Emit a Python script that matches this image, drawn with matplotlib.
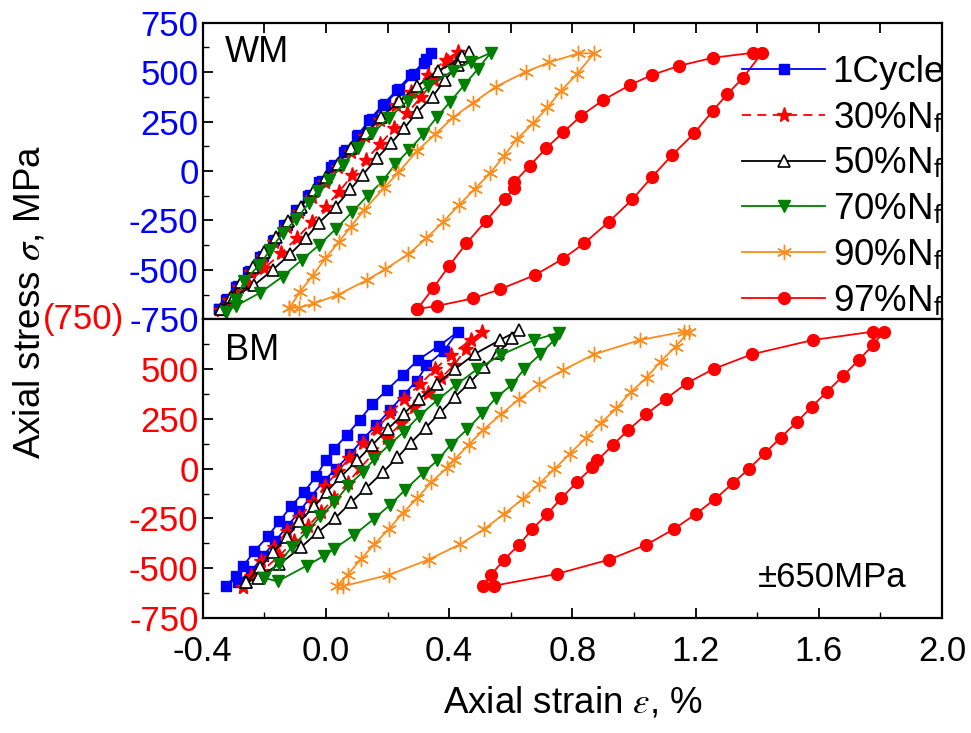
import matplotlib

matplotlib.use("Agg")  # headless
import matplotlib.pyplot as plt
from matplotlib.ticker import MultipleLocator, FuncFormatter

plt.rcParams["font.family"] = ["Liberation Sans", "DejaVu Sans"]
plt.rcParams["mathtext.fontset"] = "stix"
plt.rcParams["axes.unicode_minus"] = False

# --- data: each loop = loading branch (min -> max) followed by unloading branch (max -> min)
labels = ["1Cycle", "30%N$_\\mathregular{f}$", "50%N$_\\mathregular{f}$",
          "70%N$_\\mathregular{f}$", "90%N$_\\mathregular{f}$", "97%N$_\\mathregular{f}$"]

# WM (weld metal), strain in %, stress in MPa
wm_c1_x = [-0.346, -0.324, -0.292, -0.254, -0.213, -0.173, -0.135, -0.097, -0.059, -0.022, 0.016, 0.059, 0.101,
           0.141, 0.184, 0.230, 0.276, 0.317, 0.341,
           0.324, 0.286, 0.238, 0.191, 0.148, 0.105, 0.065, 0.025, -0.014, -0.052, -0.089, -0.128, -0.168,
           -0.205, -0.245, -0.284, -0.321, -0.346]
wm_c1_y = [-698, -652, -585, -509, -433, -352, -273, -197, -126, -54, 22, 98, 177, 258, 334, 409, 485, 548, 595,
           565, 490, 415, 337, 261, 182, 106, 30, -49, -121, -197, -273, -349, -430, -504, -581, -649, -698]

wm_30_x = [-0.341, -0.314, -0.281, -0.243, -0.205, -0.168, -0.128, -0.086, -0.045, -0.003, 0.038, 0.081, 0.126,
           0.175, 0.227, 0.276, 0.330, 0.389, 0.427,
           0.395, 0.351, 0.308, 0.263, 0.222, 0.175, 0.130, 0.086, 0.043, 0.000, -0.045, -0.094, -0.146,
           -0.200, -0.254, -0.297, -0.341]
wm_30_y = [-703, -652, -585, -509, -433, -357, -281, -206, -130, -54, 22, 98, 177, 258, 334, 401, 485, 561, 603,
           553, 460, 372, 292, 216, 135, 56, -20, -104, -180, -256, -340, -416, -492, -568, -635, -703]

wm_50_x = [-0.341, -0.308, -0.276, -0.238, -0.200, -0.162, -0.122, -0.081, -0.038, 0.000, 0.038, 0.081, 0.130,
           0.178, 0.238, 0.297, 0.364, 0.432, 0.465,
           0.440, 0.427, 0.386, 0.346, 0.297, 0.254, 0.211, 0.165, 0.119, 0.079, 0.032, -0.022, -0.065,
           -0.117, -0.173, -0.232, -0.297, -0.341]
wm_50_y = [-699, -635, -559, -484, -408, -332, -251, -180, -96, -29, 35, 115, 194, 271, 354, 430, 506, 564, 603,
           583, 536, 460, 376, 300, 216, 140, 64, -20, -93, -180, -261, -340, -421, -500, -576, -635, -699]

wm_70_x = [-0.324, -0.292, -0.265, -0.216, -0.181, -0.141, -0.097, -0.054, -0.027, 0.011, 0.054, 0.103, 0.151,
           0.205, 0.265, 0.330, 0.411, 0.470, 0.535,
           0.492, 0.449, 0.403, 0.359, 0.316, 0.270, 0.225, 0.182, 0.135, 0.086, 0.032, -0.022, -0.079,
           -0.141, -0.213, -0.292, -0.324]
wm_70_y = [-711, -652, -554, -475, -399, -315, -244, -160, -99, -45, 30, 115, 190, 270, 354, 430, 506, 553, 598,
           514, 435, 350, 271, 185, 106, 34, -54, -125, -206, -293, -374, -450, -534, -615, -682, -711]

wm_90_x = [-0.119, -0.084, -0.043, -0.002, 0.041, 0.081, 0.124, 0.187, 0.235, 0.297, 0.355, 0.413, 0.478, 0.551,
           0.649, 0.724, 0.819, 0.870,
           0.814, 0.762, 0.719, 0.672, 0.619, 0.578, 0.532, 0.483, 0.432, 0.381, 0.326, 0.267, 0.192, 0.133,
           0.038, -0.038, -0.086, -0.119]
wm_90_y = [-694, -610, -529, -441, -361, -281, -197, -88, -7, 103, 187, 271, 345, 426, 502, 549, 595, 595,
           489, 404, 322, 241, 160, 76, -12, -91, -172, -256, -340, -421, -497, -551, -627, -669, -691, -694]

wm_97_x = [0.297, 0.349, 0.400, 0.456, 0.519, 0.581, 0.611, 0.611, 0.662, 0.714, 0.770, 0.827, 0.900, 0.987,
           1.057, 1.146, 1.257, 1.387, 1.416,
           1.354, 1.303, 1.256, 1.195, 1.124, 1.059, 0.995, 0.919, 0.838, 0.768, 0.679, 0.565, 0.478, 0.362,
           0.297]
wm_97_y = [-698, -590, -479, -366, -253, -142, -88, -57, 27, 115, 195, 278, 359, 435, 485, 532, 573, 598, 598,
           472, 389, 305, 190, 81, -29, -143, -256, -366, -445, -526, -598, -644, -682, -698]

# BM (base metal)
bm_c1_x = [-0.324, -0.292, -0.270, -0.232, -0.189, -0.151, -0.114, -0.070, -0.032, 0.000, 0.027, 0.068, 0.110,
           0.151, 0.198, 0.249, 0.299, 0.368, 0.427,
           0.382, 0.326, 0.295, 0.252, 0.209, 0.164, 0.121, 0.079, 0.032, -0.008, -0.049, -0.086, -0.126,
           -0.165, -0.205, -0.243, -0.286]
bm_c1_y = [-588, -537, -491, -415, -340, -265, -190, -115, -39, 44, 99, 170, 245, 324, 395, 471, 546, 618, 685,
           591, 518, 441, 371, 295, 220, 150, 73, -1, -64, -140, -215, -290, -365, -441, -516, -568]

bm_30_x = [-0.270, -0.243, -0.211, -0.170, -0.126, -0.086, -0.043, -0.003, 0.040, 0.076, 0.119, 0.165, 0.209,
           0.254, 0.306, 0.354, 0.405, 0.470, 0.506,
           0.454, 0.416, 0.373, 0.330, 0.286, 0.245, 0.198, 0.155, 0.111, 0.070, 0.027, -0.016, -0.059,
           -0.105, -0.154, -0.209, -0.270]
bm_30_y = [-596, -541, -466, -394, -315, -243, -170, -89, -11, 53, 128, 200, 278, 350, 424, 499, 571, 646, 688,
           599, 521, 454, 379, 312, 228, 156, 78, 3, -73, -148, -220, -290, -365, -441, -516, -596]

bm_50_x = [-0.259, -0.213, -0.173, -0.126, -0.086, -0.038, 0.003, 0.049, 0.101, 0.151, 0.200, 0.252, 0.303,
           0.360, 0.418, 0.483, 0.565, 0.627,
           0.605, 0.557, 0.514, 0.468, 0.418, 0.371, 0.324, 0.276, 0.232, 0.184, 0.130, 0.081, 0.030, -0.027,
           -0.081, -0.151, -0.222, -0.259]
bm_50_y = [-571, -494, -420, -345, -265, -190, -115, -39, 41, 120, 198, 275, 349, 426, 499, 576, 646, 696,
           654, 579, 509, 434, 359, 282, 206, 131, 56, -19, -98, -170, -248, -320, -395, -479, -549, -571]

bm_70_x = [-0.200, -0.154, -0.111, -0.065, -0.018, 0.027, 0.070, 0.119, 0.157, 0.205, 0.254, 0.303, 0.362,
           0.422, 0.490, 0.568, 0.676, 0.757,
           0.741, 0.695, 0.643, 0.602, 0.551, 0.508, 0.459, 0.405, 0.362, 0.314, 0.257, 0.209, 0.155, 0.092,
           0.025, -0.005, -0.062, -0.157, -0.200]
bm_70_y = [-549, -477, -394, -320, -240, -170, -89, -18, 48, 120, 186, 265, 345, 420, 499, 571, 646, 683,
           646, 574, 499, 420, 354, 278, 198, 120, 41, -23, -106, -181, -253, -332, -404, -437, -487, -566, -549]

bm_90_x = [0.036, 0.070, 0.114, 0.157, 0.205, 0.249, 0.297, 0.341, 0.392, 0.416, 0.463, 0.511, 0.568, 0.627,
           0.692, 0.771, 0.870, 1.019, 1.162, 1.178,
           1.135, 1.086, 1.041, 0.989, 0.943, 0.892, 0.843, 0.791, 0.741, 0.692, 0.638, 0.578, 0.514, 0.436,
           0.333, 0.205, 0.054]
bm_90_y = [-588, -533, -454, -379, -302, -223, -148, -69, 3, 44, 120, 195, 273, 349, 426, 496, 574, 646, 688, 688,
           613, 538, 457, 384, 303, 228, 153, 74, -3, -76, -153, -228, -303, -379, -457, -533, -591]

bm_97_x = [0.511, 0.535, 0.578, 0.627, 0.670, 0.719, 0.764, 0.814, 0.865, 0.881, 0.932, 0.982, 1.040, 1.103,
           1.171, 1.259, 1.382, 1.581, 1.776, 1.811,
           1.776, 1.730, 1.679, 1.627, 1.578, 1.528, 1.476, 1.425, 1.373, 1.321, 1.263, 1.200, 1.130, 1.040,
           0.919, 0.749, 0.546]
bm_97_y = [-588, -536, -457, -382, -303, -227, -148, -69, 8, 41, 120, 195, 273, 350, 429, 501, 574, 646, 688, 688,
           621, 546, 466, 387, 312, 233, 156, 78, -1, -73, -153, -228, -303, -382, -457, -529, -588]

wm_series = [(wm_c1_x, wm_c1_y), (wm_30_x, wm_30_y), (wm_50_x, wm_50_y),
             (wm_70_x, wm_70_y), (wm_90_x, wm_90_y), (wm_97_x, wm_97_y)]
bm_series = [(bm_c1_x, bm_c1_y), (bm_30_x, bm_30_y), (bm_50_x, bm_50_y),
             (bm_70_x, bm_70_y), (bm_90_x, bm_90_y), (bm_97_x, bm_97_y)]

_BLUE = "#0000ff"
_RED = "#ff0000"
_GREEN = "#007f00"
_ORANGE = "#ff8c1a"

styles = [
    dict(color=_BLUE, marker="s", ms=7.5, ls="-"),
    dict(color=_RED, marker="*", ms=11, ls=(0, (5, 3.5))),
    dict(color="black", marker="^", ms=9, mfc="white", mew=1.2, ls="-"),
    dict(color=_GREEN, marker="v", ms=9, ls="-"),
    dict(color=_ORANGE, marker=(6, 2, 0), ms=11, mew=1.0, ls="-"),
    dict(color=_RED, marker="o", ms=8.5, ls="-"),
]

FS = 25

fig = plt.figure(figsize=(9.71, 7.33), dpi=100)
ax1 = fig.add_axes([0.2088, 0.5644, 0.7614, 0.4046])
ax2 = fig.add_axes([0.2088, 0.1569, 0.7614, 0.4075])

handles = []
for (x, y), lab, st in zip(wm_series, labels, styles):
    h, = ax1.plot(x, y, lw=1.3, label=lab, **st)
    handles.append(h)
for (x, y), st in zip(bm_series, styles):
    ax2.plot(x, y, lw=1.3, **st)

for ax in (ax1, ax2):
    ax.set_xlim(-0.4, 2.0)
    ax.set_ylim(-750, 750)
    for s in ax.spines.values():
        s.set_linewidth(1.6)
    ax.yaxis.set_major_locator(MultipleLocator(250))
    ax.yaxis.set_minor_locator(MultipleLocator(125))
    ax.tick_params(axis="y", which="both", direction="in", left=True, right=False, labelsize=FS, pad=3)
    ax.tick_params(axis="y", which="major", length=7, width=1.3)
    ax.tick_params(axis="y", which="minor", length=4, width=1.0)

# top panel: ticks on the top edge only, blue labels
ax1.xaxis.set_major_locator(MultipleLocator(0.2))
ax1.tick_params(axis="x", which="both", direction="in", top=True, bottom=False,
                labeltop=False, labelbottom=False, length=7, width=1.3)
ax1.tick_params(axis="y", labelcolor=_BLUE)

# bottom panel: ticks on the bottom edge, red labels, top label replaced by "(750)"
ax2.xaxis.set_major_locator(MultipleLocator(0.4))
ax2.xaxis.set_minor_locator(MultipleLocator(0.2))
ax2.xaxis.set_major_formatter(FuncFormatter(lambda v, p: f"{v:.1f}"))
ax2.tick_params(axis="x", which="both", direction="in", top=False, bottom=True, labelsize=FS, pad=12)
ax2.tick_params(axis="x", which="major", length=7, width=1.3)
ax2.tick_params(axis="x", which="minor", length=4, width=1.0)
ax2.yaxis.set_major_formatter(FuncFormatter(lambda v, p: "" if v >= 749 else f"{v:g}"))
ax2.tick_params(axis="y", labelcolor=_RED)
fig.text(124 / 971, 1 - 320 / 733, "(750)", color=_RED, fontsize=FS, ha="right", va="center")

ax1.text(0.030, 0.90, "WM", transform=ax1.transAxes, fontsize=26, ha="left", va="center")
ax2.text(0.030, 0.897, "BM", transform=ax2.transAxes, fontsize=26, ha="left", va="center")
ax2.text(0.751, 0.134, "\u00b1650MPa", transform=ax2.transAxes, fontsize=25, ha="left", va="center")

ax1.legend(handles=handles, loc="upper right", bbox_to_anchor=(1.004, 0.89), frameon=False,
           fontsize=26.5, handlelength=2.23, handletextpad=0.22, labelspacing=0.29,
           borderpad=0, borderaxespad=0, numpoints=1)

fig.text(30 / 971, 1 - 302 / 733, r"Axial stress $\sigma$, MPa", rotation=90,
         fontsize=26.5, ha="center", va="center")
fig.text(573 / 971, 1 - 703 / 733, r"Axial strain $\varepsilon$, %", fontsize=26.5, ha="center", va="center")

fig.savefig("out.png", dpi=100, facecolor="white")
